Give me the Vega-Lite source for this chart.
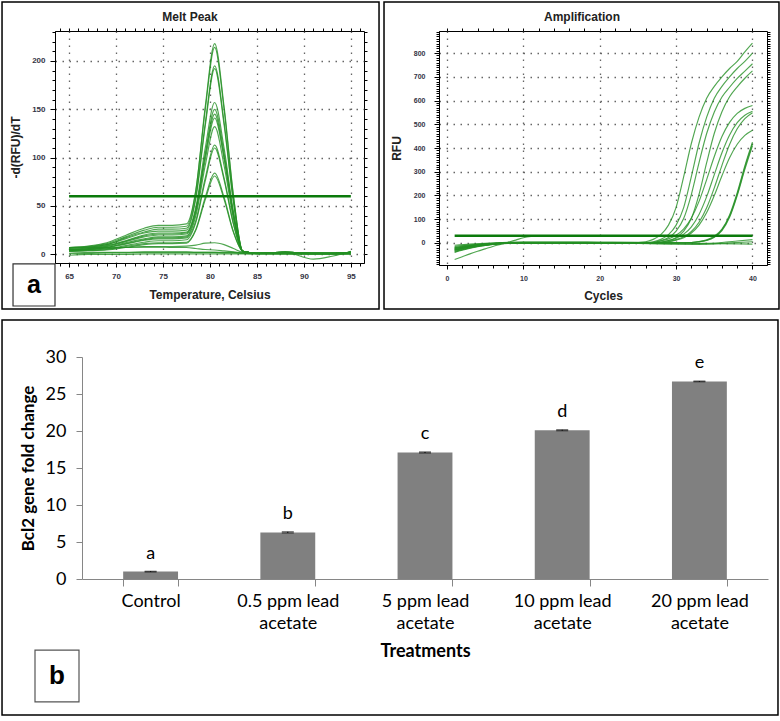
{
"$schema": "https://vega.github.io/schema/vega-lite/v6.json",
"padding": 0,
"background": "white",
"spacing": 8,
"config": {"font": "Liberation Sans", "view": {"stroke": "black", "strokeWidth": 1}},
"datasets": {
"melt": [
{"c":"m1","t":65,"v":7},{"c":"m1","t":67,"v":8},{"c":"m1","t":69,"v":11},{"c":"m1","t":71,"v":18},{"c":"m1","t":73,"v":25},{"c":"m1","t":74.5,"v":28},{"c":"m1","t":76,"v":28},{"c":"m1","t":77.5,"v":29},{"c":"m1","t":78.5,"v":66},{"c":"m1","t":79.5,"v":153},{"c":"m1","t":80.5,"v":218},{"c":"m1","t":81.5,"v":153},{"c":"m1","t":82.5,"v":61},{"c":"m1","t":83.5,"v":3},{"c":"m1","t":85,"v":1},{"c":"m1","t":88,"v":2},{"c":"m1","t":91,"v":1},{"c":"m1","t":93,"v":1},{"c":"m1","t":95,"v":2},
{"c":"m2","t":65,"v":7},{"c":"m2","t":67,"v":8.5},{"c":"m2","t":69,"v":12},{"c":"m2","t":71,"v":19.5},{"c":"m2","t":73,"v":27},{"c":"m2","t":74.5,"v":30},{"c":"m2","t":76,"v":30},{"c":"m2","t":77.5,"v":31.5},{"c":"m2","t":78.5,"v":67},{"c":"m2","t":79.5,"v":150},{"c":"m2","t":80.5,"v":214},{"c":"m2","t":81.5,"v":150},{"c":"m2","t":82.5,"v":60},{"c":"m2","t":83.5,"v":3},{"c":"m2","t":85,"v":1},{"c":"m2","t":88,"v":2},{"c":"m2","t":91,"v":1},{"c":"m2","t":93,"v":1},{"c":"m2","t":95,"v":2},
{"c":"m3","t":65,"v":6},{"c":"m3","t":67,"v":7.5},{"c":"m3","t":69,"v":10},{"c":"m3","t":71,"v":17},{"c":"m3","t":73,"v":23},{"c":"m3","t":74.5,"v":26},{"c":"m3","t":76,"v":26},{"c":"m3","t":77.5,"v":27},{"c":"m3","t":78.5,"v":60},{"c":"m3","t":79.5,"v":136},{"c":"m3","t":80.5,"v":195},{"c":"m3","t":81.5,"v":137},{"c":"m3","t":82.5,"v":55},{"c":"m3","t":83.5,"v":3},{"c":"m3","t":85,"v":1},{"c":"m3","t":88,"v":2},{"c":"m3","t":91,"v":1},{"c":"m3","t":93,"v":1},{"c":"m3","t":95,"v":2},
{"c":"m4","t":65,"v":6},{"c":"m4","t":67,"v":7},{"c":"m4","t":69,"v":10},{"c":"m4","t":71,"v":16},{"c":"m4","t":73,"v":22},{"c":"m4","t":74.5,"v":24},{"c":"m4","t":76,"v":24},{"c":"m4","t":77.5,"v":25},{"c":"m4","t":78.5,"v":58},{"c":"m4","t":79.5,"v":133},{"c":"m4","t":80.5,"v":192},{"c":"m4","t":81.5,"v":134},{"c":"m4","t":82.5,"v":54},{"c":"m4","t":83.5,"v":3},{"c":"m4","t":85,"v":1},{"c":"m4","t":88,"v":2},{"c":"m4","t":91,"v":1},{"c":"m4","t":93,"v":1},{"c":"m4","t":95,"v":2},
{"c":"m5","t":65,"v":5},{"c":"m5","t":67,"v":6.5},{"c":"m5","t":69,"v":9},{"c":"m5","t":71,"v":14},{"c":"m5","t":73,"v":20},{"c":"m5","t":74.5,"v":22},{"c":"m5","t":76,"v":22},{"c":"m5","t":77.5,"v":23},{"c":"m5","t":78.5,"v":49},{"c":"m5","t":79.5,"v":110},{"c":"m5","t":80.5,"v":157},{"c":"m5","t":81.5,"v":110},{"c":"m5","t":82.5,"v":44},{"c":"m5","t":83.5,"v":3},{"c":"m5","t":85,"v":1},{"c":"m5","t":88,"v":2},{"c":"m5","t":91,"v":1},{"c":"m5","t":93,"v":1},{"c":"m5","t":95,"v":2},
{"c":"m6","t":65,"v":5},{"c":"m6","t":67,"v":6},{"c":"m6","t":69,"v":8},{"c":"m6","t":71,"v":13},{"c":"m6","t":73,"v":18},{"c":"m6","t":74.5,"v":20},{"c":"m6","t":76,"v":20},{"c":"m6","t":77.5,"v":21},{"c":"m6","t":78.5,"v":46},{"c":"m6","t":79.5,"v":104},{"c":"m6","t":80.5,"v":150},{"c":"m6","t":81.5,"v":105},{"c":"m6","t":82.5,"v":42},{"c":"m6","t":83.5,"v":3},{"c":"m6","t":85,"v":1},{"c":"m6","t":88,"v":2},{"c":"m6","t":91,"v":1},{"c":"m6","t":93,"v":1},{"c":"m6","t":95,"v":2},
{"c":"m7","t":65,"v":5},{"c":"m7","t":67,"v":6},{"c":"m7","t":69,"v":8.5},{"c":"m7","t":71,"v":13.5},{"c":"m7","t":73,"v":19},{"c":"m7","t":74.5,"v":21},{"c":"m7","t":76,"v":21},{"c":"m7","t":77.5,"v":22},{"c":"m7","t":78.5,"v":46},{"c":"m7","t":79.5,"v":102},{"c":"m7","t":80.5,"v":145},{"c":"m7","t":81.5,"v":101},{"c":"m7","t":82.5,"v":41},{"c":"m7","t":83.5,"v":3},{"c":"m7","t":85,"v":1},{"c":"m7","t":88,"v":2},{"c":"m7","t":91,"v":1},{"c":"m7","t":93,"v":1},{"c":"m7","t":95,"v":2},
{"c":"m8","t":65,"v":4.6},{"c":"m8","t":67,"v":5.5},{"c":"m8","t":69,"v":7},{"c":"m8","t":71,"v":12},{"c":"m8","t":73,"v":16},{"c":"m8","t":74.5,"v":18},{"c":"m8","t":76,"v":18},{"c":"m8","t":77.5,"v":19},{"c":"m8","t":78.5,"v":43},{"c":"m8","t":79.5,"v":98},{"c":"m8","t":80.5,"v":141},{"c":"m8","t":81.5,"v":99},{"c":"m8","t":82.5,"v":39},{"c":"m8","t":83.5,"v":3},{"c":"m8","t":85,"v":1},{"c":"m8","t":88,"v":2},{"c":"m8","t":91,"v":1},{"c":"m8","t":93,"v":1},{"c":"m8","t":95,"v":2},
{"c":"m9","t":65,"v":4.4},{"c":"m9","t":67,"v":5},{"c":"m9","t":69,"v":7},{"c":"m9","t":71,"v":11},{"c":"m9","t":73,"v":15},{"c":"m9","t":74.5,"v":17},{"c":"m9","t":76,"v":17},{"c":"m9","t":77.5,"v":18},{"c":"m9","t":78.5,"v":40},{"c":"m9","t":79.5,"v":92},{"c":"m9","t":80.5,"v":132},{"c":"m9","t":81.5,"v":92},{"c":"m9","t":82.5,"v":37},{"c":"m9","t":83.5,"v":3},{"c":"m9","t":85,"v":1},{"c":"m9","t":88,"v":2},{"c":"m9","t":91,"v":1},{"c":"m9","t":93,"v":1},{"c":"m9","t":95,"v":2},
{"c":"m10","t":65,"v":4},{"c":"m10","t":67,"v":5},{"c":"m10","t":69,"v":6.5},{"c":"m10","t":71,"v":10.5},{"c":"m10","t":73,"v":14.5},{"c":"m10","t":74.5,"v":16},{"c":"m10","t":76,"v":16},{"c":"m10","t":77.5,"v":17},{"c":"m10","t":78.5,"v":35},{"c":"m10","t":79.5,"v":79},{"c":"m10","t":80.5,"v":113},{"c":"m10","t":81.5,"v":79},{"c":"m10","t":82.5,"v":32},{"c":"m10","t":83.5,"v":3},{"c":"m10","t":85,"v":1},{"c":"m10","t":88,"v":2},{"c":"m10","t":91,"v":1},{"c":"m10","t":93,"v":1},{"c":"m10","t":95,"v":2},
{"c":"m11","t":65,"v":4},{"c":"m11","t":67,"v":4.5},{"c":"m11","t":69,"v":5.5},{"c":"m11","t":71,"v":9},{"c":"m11","t":73,"v":12.5},{"c":"m11","t":74.5,"v":14},{"c":"m11","t":76,"v":14},{"c":"m11","t":77.5,"v":15},{"c":"m11","t":78.5,"v":33},{"c":"m11","t":79.5,"v":76},{"c":"m11","t":80.5,"v":110},{"c":"m11","t":81.5,"v":77},{"c":"m11","t":82.5,"v":31},{"c":"m11","t":83.5,"v":3},{"c":"m11","t":85,"v":1},{"c":"m11","t":88,"v":2},{"c":"m11","t":91,"v":1},{"c":"m11","t":93,"v":1},{"c":"m11","t":95,"v":2},
{"c":"m12","t":65,"v":3.4},{"c":"m12","t":67,"v":4},{"c":"m12","t":69,"v":5},{"c":"m12","t":71,"v":8},{"c":"m12","t":73,"v":11},{"c":"m12","t":74.5,"v":12},{"c":"m12","t":76,"v":12},{"c":"m12","t":77.5,"v":12.5},{"c":"m12","t":78.5,"v":26},{"c":"m12","t":79.5,"v":59},{"c":"m12","t":80.5,"v":84},{"c":"m12","t":81.5,"v":59},{"c":"m12","t":82.5,"v":23.5},{"c":"m12","t":83.5,"v":3},{"c":"m12","t":85,"v":1},{"c":"m12","t":88,"v":2},{"c":"m12","t":91,"v":1},{"c":"m12","t":93,"v":1},{"c":"m12","t":95,"v":2},
{"c":"m13","t":65,"v":3.2},{"c":"m13","t":67,"v":3.7},{"c":"m13","t":69,"v":4.4},{"c":"m13","t":71,"v":7},{"c":"m13","t":73,"v":10},{"c":"m13","t":74.5,"v":11},{"c":"m13","t":76,"v":11},{"c":"m13","t":77.5,"v":11.5},{"c":"m13","t":78.5,"v":25},{"c":"m13","t":79.5,"v":56.5},{"c":"m13","t":80.5,"v":81},{"c":"m13","t":81.5,"v":57},{"c":"m13","t":82.5,"v":22.7},{"c":"m13","t":83.5,"v":3},{"c":"m13","t":85,"v":1},{"c":"m13","t":88,"v":2},{"c":"m13","t":91,"v":1},{"c":"m13","t":93,"v":1},{"c":"m13","t":95,"v":2},
{"c":"m14","t":65,"v":4},{"c":"m14","t":67,"v":5},{"c":"m14","t":69,"v":6},{"c":"m14","t":71,"v":7},{"c":"m14","t":73,"v":8},{"c":"m14","t":74.5,"v":8},{"c":"m14","t":76,"v":8},{"c":"m14","t":77.5,"v":8.5},{"c":"m14","t":78.5,"v":9.5},{"c":"m14","t":79.5,"v":11.5},{"c":"m14","t":80.5,"v":12},{"c":"m14","t":81.5,"v":10},{"c":"m14","t":82.5,"v":6},{"c":"m14","t":83.5,"v":2},{"c":"m14","t":85,"v":1},{"c":"m14","t":88,"v":1},{"c":"m14","t":91,"v":1},{"c":"m14","t":93,"v":1},{"c":"m14","t":95,"v":2},
{"c":"m15","t":65,"v":7},{"c":"m15","t":67,"v":7},{"c":"m15","t":69,"v":7},{"c":"m15","t":71,"v":7},{"c":"m15","t":73,"v":7.5},{"c":"m15","t":74.5,"v":7.5},{"c":"m15","t":76,"v":7},{"c":"m15","t":77.5,"v":7},{"c":"m15","t":78.5,"v":6},{"c":"m15","t":79.5,"v":5},{"c":"m15","t":80.5,"v":4.5},{"c":"m15","t":81.5,"v":3.5},{"c":"m15","t":82.5,"v":2.5},{"c":"m15","t":83.5,"v":1.5},{"c":"m15","t":85,"v":1},{"c":"m15","t":88,"v":1.5},{"c":"m15","t":91,"v":1},{"c":"m15","t":93,"v":1},{"c":"m15","t":95,"v":1},
{"c":"m16","t":65,"v":1},{"c":"m16","t":67,"v":1},{"c":"m16","t":69,"v":1.5},{"c":"m16","t":71,"v":1.5},{"c":"m16","t":73,"v":2},{"c":"m16","t":74.5,"v":2},{"c":"m16","t":76,"v":2},{"c":"m16","t":77.5,"v":2},{"c":"m16","t":78.5,"v":2},{"c":"m16","t":79.5,"v":2},{"c":"m16","t":80.5,"v":2},{"c":"m16","t":81.5,"v":1.5},{"c":"m16","t":82.5,"v":1.5},{"c":"m16","t":83.5,"v":1},{"c":"m16","t":85,"v":1},{"c":"m16","t":88,"v":1},{"c":"m16","t":91,"v":0},{"c":"m16","t":93,"v":0},{"c":"m16","t":95,"v":1},
{"c":"m17","t":65,"v":3},{"c":"m17","t":67,"v":2},{"c":"m17","t":69,"v":2},{"c":"m17","t":71,"v":2},{"c":"m17","t":73,"v":2.5},{"c":"m17","t":74.5,"v":2.5},{"c":"m17","t":76,"v":2.5},{"c":"m17","t":77.5,"v":2.5},{"c":"m17","t":78.5,"v":2},{"c":"m17","t":79.5,"v":2},{"c":"m17","t":80.5,"v":2},{"c":"m17","t":81.5,"v":2},{"c":"m17","t":82.5,"v":2},{"c":"m17","t":83.5,"v":1.5},{"c":"m17","t":85,"v":1},{"c":"m17","t":88,"v":2},{"c":"m17","t":91,"v":-5},{"c":"m17","t":93,"v":-2},{"c":"m17","t":95,"v":3},
{"c":"m18","t":65,"v":-1},{"c":"m18","t":67,"v":0},{"c":"m18","t":69,"v":0},{"c":"m18","t":71,"v":0},{"c":"m18","t":73,"v":0.5},{"c":"m18","t":74.5,"v":0.5},{"c":"m18","t":76,"v":0.5},{"c":"m18","t":77.5,"v":0.5},{"c":"m18","t":78.5,"v":0.5},{"c":"m18","t":79.5,"v":0.5},{"c":"m18","t":80.5,"v":0.5},{"c":"m18","t":81.5,"v":0.5},{"c":"m18","t":82.5,"v":0.5},{"c":"m18","t":83.5,"v":0.5},{"c":"m18","t":85,"v":0},{"c":"m18","t":88,"v":0},{"c":"m18","t":91,"v":0},{"c":"m18","t":93,"v":0},{"c":"m18","t":95,"v":0}
],
"meltThr": [{"t":65,"v":60},{"t":95,"v":60}],
"amp": [
{"c":"A1","x":1,"v":-25},{"c":"A1","x":2,"v":-19},{"c":"A1","x":4,"v":-10},{"c":"A1","x":6,"v":-4},{"c":"A1","x":8,"v":-1},{"c":"A1","x":12,"v":0},{"c":"A1","x":16,"v":1},{"c":"A1","x":20,"v":0},{"c":"A1","x":24,"v":1},{"c":"A1","x":26,"v":5},{"c":"A1","x":27,"v":15},{"c":"A1","x":28,"v":35},{"c":"A1","x":29,"v":75},{"c":"A1","x":30,"v":150},{"c":"A1","x":31,"v":280},{"c":"A1","x":32,"v":420},{"c":"A1","x":33,"v":530},{"c":"A1","x":34,"v":610},{"c":"A1","x":35,"v":660},{"c":"A1","x":36,"v":700},{"c":"A1","x":37,"v":735},{"c":"A1","x":38,"v":765},{"c":"A1","x":39,"v":805},{"c":"A1","x":40,"v":842},
{"c":"A2","x":1,"v":-35},{"c":"A2","x":2,"v":-27},{"c":"A2","x":4,"v":-14},{"c":"A2","x":6,"v":-5},{"c":"A2","x":8,"v":-1},{"c":"A2","x":12,"v":0},{"c":"A2","x":16,"v":1},{"c":"A2","x":20,"v":0},{"c":"A2","x":24,"v":0},{"c":"A2","x":26,"v":1},{"c":"A2","x":27,"v":5},{"c":"A2","x":28,"v":15},{"c":"A2","x":29,"v":35},{"c":"A2","x":30,"v":75},{"c":"A2","x":31,"v":150},{"c":"A2","x":32,"v":280},{"c":"A2","x":33,"v":420},{"c":"A2","x":34,"v":530},{"c":"A2","x":35,"v":610},{"c":"A2","x":36,"v":660},{"c":"A2","x":37,"v":700},{"c":"A2","x":38,"v":735},{"c":"A2","x":39,"v":765},{"c":"A2","x":40,"v":800},
{"c":"A3","x":1,"v":-20},{"c":"A3","x":2,"v":-15},{"c":"A3","x":4,"v":-8},{"c":"A3","x":6,"v":-3},{"c":"A3","x":8,"v":0},{"c":"A3","x":12,"v":1},{"c":"A3","x":16,"v":0},{"c":"A3","x":20,"v":1},{"c":"A3","x":24,"v":0},{"c":"A3","x":27,"v":3},{"c":"A3","x":28,"v":10},{"c":"A3","x":29,"v":23},{"c":"A3","x":30,"v":50},{"c":"A3","x":31,"v":104},{"c":"A3","x":32,"v":205},{"c":"A3","x":33,"v":338},{"c":"A3","x":34,"v":461},{"c":"A3","x":35,"v":552},{"c":"A3","x":36,"v":615},{"c":"A3","x":37,"v":656},{"c":"A3","x":38,"v":693},{"c":"A3","x":39,"v":724},{"c":"A3","x":40,"v":755},
{"c":"A4","x":1,"v":-30},{"c":"A4","x":2,"v":-23},{"c":"A4","x":4,"v":-12},{"c":"A4","x":6,"v":-5},{"c":"A4","x":8,"v":-1},{"c":"A4","x":12,"v":0},{"c":"A4","x":16,"v":0},{"c":"A4","x":20,"v":1},{"c":"A4","x":24,"v":0},{"c":"A4","x":27,"v":0},{"c":"A4","x":28,"v":3},{"c":"A4","x":29,"v":10},{"c":"A4","x":30,"v":23},{"c":"A4","x":31,"v":50},{"c":"A4","x":32,"v":104},{"c":"A4","x":33,"v":205},{"c":"A4","x":34,"v":338},{"c":"A4","x":35,"v":462},{"c":"A4","x":36,"v":553},{"c":"A4","x":37,"v":616},{"c":"A4","x":38,"v":658},{"c":"A4","x":39,"v":694},{"c":"A4","x":40,"v":725},
{"c":"L1","x":1,"v":-38},{"c":"L1","x":2,"v":-29},{"c":"L1","x":4,"v":-15},{"c":"L1","x":6,"v":-6},{"c":"L1","x":8,"v":-1},{"c":"L1","x":12,"v":0},{"c":"L1","x":16,"v":0},{"c":"L1","x":20,"v":0},{"c":"L1","x":24,"v":0},{"c":"L1","x":27,"v":2},{"c":"L1","x":28,"v":8},{"c":"L1","x":29,"v":17},{"c":"L1","x":30,"v":32},{"c":"L1","x":31,"v":59},{"c":"L1","x":32,"v":105},{"c":"L1","x":33,"v":175},{"c":"L1","x":34,"v":267},{"c":"L1","x":35,"v":364},{"c":"L1","x":36,"v":448},{"c":"L1","x":37,"v":508},{"c":"L1","x":38,"v":546},{"c":"L1","x":39,"v":567},{"c":"L1","x":40,"v":579},
{"c":"L2","x":1,"v":-15},{"c":"L2","x":2,"v":-11},{"c":"L2","x":4,"v":-6},{"c":"L2","x":6,"v":-2},{"c":"L2","x":8,"v":0},{"c":"L2","x":12,"v":1},{"c":"L2","x":16,"v":0},{"c":"L2","x":20,"v":0},{"c":"L2","x":24,"v":0},{"c":"L2","x":27,"v":1},{"c":"L2","x":28,"v":4},{"c":"L2","x":29,"v":10},{"c":"L2","x":30,"v":20},{"c":"L2","x":31,"v":37},{"c":"L2","x":32,"v":68},{"c":"L2","x":33,"v":120},{"c":"L2","x":34,"v":195},{"c":"L2","x":35,"v":288},{"c":"L2","x":36,"v":380},{"c":"L2","x":37,"v":455},{"c":"L2","x":38,"v":507},{"c":"L2","x":39,"v":538},{"c":"L2","x":40,"v":555},
{"c":"L3","x":1,"v":-28},{"c":"L3","x":2,"v":-21},{"c":"L3","x":4,"v":-11},{"c":"L3","x":6,"v":-4},{"c":"L3","x":8,"v":-1},{"c":"L3","x":12,"v":0},{"c":"L3","x":16,"v":1},{"c":"L3","x":20,"v":0},{"c":"L3","x":24,"v":0},{"c":"L3","x":28,"v":2},{"c":"L3","x":29,"v":6},{"c":"L3","x":30,"v":14},{"c":"L3","x":31,"v":26},{"c":"L3","x":32,"v":48},{"c":"L3","x":33,"v":87},{"c":"L3","x":34,"v":148},{"c":"L3","x":35,"v":232},{"c":"L3","x":36,"v":327},{"c":"L3","x":37,"v":415},{"c":"L3","x":38,"v":481},{"c":"L3","x":39,"v":524},{"c":"L3","x":40,"v":549},
{"c":"L4","x":1,"v":-22},{"c":"L4","x":2,"v":-17},{"c":"L4","x":4,"v":-9},{"c":"L4","x":6,"v":-3},{"c":"L4","x":8,"v":0},{"c":"L4","x":12,"v":0},{"c":"L4","x":16,"v":0},{"c":"L4","x":20,"v":1},{"c":"L4","x":24,"v":0},{"c":"L4","x":28,"v":2},{"c":"L4","x":29,"v":5},{"c":"L4","x":30,"v":12},{"c":"L4","x":31,"v":22},{"c":"L4","x":32,"v":42},{"c":"L4","x":33,"v":75},{"c":"L4","x":34,"v":128},{"c":"L4","x":35,"v":200},{"c":"L4","x":36,"v":283},{"c":"L4","x":37,"v":359},{"c":"L4","x":38,"v":416},{"c":"L4","x":39,"v":453},{"c":"L4","x":40,"v":475},
{"c":"L5","x":1,"v":-32},{"c":"L5","x":2,"v":-24},{"c":"L5","x":4,"v":-12},{"c":"L5","x":6,"v":-5},{"c":"L5","x":8,"v":-1},{"c":"L5","x":12,"v":0},{"c":"L5","x":16,"v":0},{"c":"L5","x":20,"v":0},{"c":"L5","x":24,"v":0},{"c":"L5","x":30,"v":0},{"c":"L5","x":32,"v":2},{"c":"L5","x":33,"v":6},{"c":"L5","x":34,"v":13},{"c":"L5","x":35,"v":28},{"c":"L5","x":36,"v":58},{"c":"L5","x":37,"v":118},{"c":"L5","x":38,"v":212},{"c":"L5","x":39,"v":325},{"c":"L5","x":40,"v":425},
{"c":"L6","x":1,"v":-40},{"c":"L6","x":2,"v":-31},{"c":"L6","x":4,"v":-16},{"c":"L6","x":6,"v":-6},{"c":"L6","x":8,"v":-2},{"c":"L6","x":12,"v":0},{"c":"L6","x":16,"v":0},{"c":"L6","x":20,"v":0},{"c":"L6","x":24,"v":0},{"c":"L6","x":30,"v":0},{"c":"L6","x":32,"v":2},{"c":"L6","x":33,"v":5},{"c":"L6","x":34,"v":11},{"c":"L6","x":35,"v":25},{"c":"L6","x":36,"v":52},{"c":"L6","x":37,"v":108},{"c":"L6","x":38,"v":200},{"c":"L6","x":39,"v":310},{"c":"L6","x":40,"v":410},
{"c":"L7","x":1,"v":-18},{"c":"L7","x":2,"v":-14},{"c":"L7","x":4,"v":-7},{"c":"L7","x":6,"v":-3},{"c":"L7","x":8,"v":0},{"c":"L7","x":12,"v":0},{"c":"L7","x":16,"v":0},{"c":"L7","x":20,"v":0},{"c":"L7","x":24,"v":0},{"c":"L7","x":30,"v":0},{"c":"L7","x":32,"v":2},{"c":"L7","x":33,"v":5},{"c":"L7","x":34,"v":10},{"c":"L7","x":35,"v":24},{"c":"L7","x":36,"v":55},{"c":"L7","x":37,"v":112},{"c":"L7","x":38,"v":205},{"c":"L7","x":39,"v":318},{"c":"L7","x":40,"v":418},
{"c":"N1","x":1,"v":-70},{"c":"N1","x":2,"v":-58},{"c":"N1","x":3,"v":-46},{"c":"N1","x":4,"v":-35},{"c":"N1","x":5,"v":-25},{"c":"N1","x":6,"v":-15},{"c":"N1","x":7,"v":-6},{"c":"N1","x":8,"v":3},{"c":"N1","x":9,"v":12},{"c":"N1","x":10,"v":22},{"c":"N1","x":11,"v":27},{"c":"N1","x":13,"v":30},{"c":"N1","x":20,"v":31},{"c":"N1","x":30,"v":31},{"c":"N1","x":40,"v":30},
{"c":"N2","x":1,"v":-10},{"c":"N2","x":3,"v":-5},{"c":"N2","x":5,"v":-2},{"c":"N2","x":8,"v":3},{"c":"N2","x":10,"v":5},{"c":"N2","x":15,"v":5},{"c":"N2","x":20,"v":4},{"c":"N2","x":25,"v":3},{"c":"N2","x":30,"v":0},{"c":"N2","x":33,"v":-2},{"c":"N2","x":36,"v":2},{"c":"N2","x":38,"v":8},{"c":"N2","x":40,"v":14},
{"c":"N3","x":1,"v":-30},{"c":"N3","x":2,"v":-23},{"c":"N3","x":4,"v":-12},{"c":"N3","x":6,"v":-5},{"c":"N3","x":8,"v":-1},{"c":"N3","x":10,"v":0},{"c":"N3","x":20,"v":0},{"c":"N3","x":30,"v":-4},{"c":"N3","x":35,"v":-3},{"c":"N3","x":40,"v":-5},
{"c":"N4","x":1,"v":-24},{"c":"N4","x":3,"v":-14},{"c":"N4","x":5,"v":-6},{"c":"N4","x":8,"v":0},{"c":"N4","x":12,"v":2},{"c":"N4","x":20,"v":1},{"c":"N4","x":28,"v":-3},{"c":"N4","x":33,"v":-6},{"c":"N4","x":37,"v":0},{"c":"N4","x":40,"v":5}
],
"ampThr": [{"x":1,"v":30},{"x":40,"v":30}],
"bars": [
{"t":"Control","v":1.0,"lo":0.95,"hi":1.05,"g":"a"},
{"t":"0.5 ppm lead acetate","v":6.3,"lo":6.22,"hi":6.38,"g":"b"},
{"t":"5 ppm lead acetate","v":17.1,"lo":17.03,"hi":17.17,"g":"c"},
{"t":"10 ppm lead acetate","v":20.1,"lo":20.03,"hi":20.17,"g":"d"},
{"t":"20 ppm lead acetate","v":26.7,"lo":26.65,"hi":26.75,"g":"e"}
]
},
"vconcat": [
{"hconcat": [
{
"width": 309, "height": 232,
"layer": [
{"data": {"values": [{}]},
 "mark": {"type": "rect", "filled": false, "stroke": "black", "strokeWidth": 1.5},
 "encoding": {
  "x": {"datum": 57.86, "type": "quantitative", "scale": {"domain": [63.5, 96.4], "nice": false, "zero": false},
        "axis": {"orient": "top", "tickCount": 33, "labels": false, "domain": false, "grid": false, "tickSize": 3, "tickColor": "black", "title": null}},
  "x2": {"datum": 98.0},
  "y": {"datum": 261.0, "type": "quantitative", "scale": {"domain": [-9, 231], "nice": false, "zero": false},
        "axis": {"orient": "right", "tickCount": 24, "labels": false, "domain": false, "grid": false, "tickSize": 3, "tickColor": "black", "title": null}},
  "y2": {"datum": -56.6}
 }},
{"data": {"name": "melt"},
 "mark": {"type": "line", "interpolate": "monotone", "stroke": "#249024", "strokeWidth": 1.15, "opacity": 0.8},
 "encoding": {
  "x": {"field": "t", "type": "quantitative", "scale": {"domain": [63.5, 96.4], "nice": false, "zero": false},
        "axis": {"values": [65, 70, 75, 80, 85, 90, 95], "title": "Temperature, Celsius", "titleFontSize": 12, "titleFontWeight": "bold", "titleColor": "#222222", "titlePadding": 9,
                 "labelFontSize": 8, "labelFontWeight": "bold", "labelColor": "#333344", "labelPadding": 5, "tickSize": 4, "tickColor": "black", "domainColor": "black",
                 "grid": true, "gridDash": [1.5, 5.5], "gridColor": "#666666", "gridWidth": 1.3}},
  "y": {"field": "v", "type": "quantitative", "scale": {"domain": [-9, 231], "nice": false, "zero": false},
        "axis": {"values": [0, 50, 100, 150, 200], "title": "-d(RFU)/dT", "titleFontSize": 12, "titleFontWeight": "bold", "titleColor": "#222222", "titlePadding": 9,
                 "labelFontSize": 8, "labelFontWeight": "bold", "labelColor": "#333344", "labelPadding": 5, "tickSize": 5, "tickColor": "black", "domainColor": "black",
                 "grid": true, "gridDash": [1.5, 5.5], "gridColor": "#666666", "gridWidth": 1.3}},
  "detail": {"field": "c", "type": "nominal"}
 }},
{"data": {"name": "meltThr"},
 "mark": {"type": "line", "stroke": "#0b7a0b", "strokeWidth": 2.5},
 "encoding": {
  "x": {"field": "t", "type": "quantitative", "scale": {"domain": [63.5, 96.4], "nice": false, "zero": false},
        "axis": {"tickCount": 33, "labels": false, "domain": false, "grid": false, "tickSize": 3, "tickColor": "black", "title": null}},
  "y": {"field": "v", "type": "quantitative", "scale": {"domain": [-9, 231], "nice": false, "zero": false},
        "axis": {"tickCount": 24, "labels": false, "domain": false, "grid": false, "tickSize": 3, "tickColor": "black", "title": null}}
 }},
{"data": {"values": [{}]},
 "mark": {"type": "rect", "fill": "white", "stroke": "#333333", "strokeWidth": 1.2},
 "encoding": {
  "x": {"datum": 59.03, "type": "quantitative", "scale": {"domain": [63.5, 96.4], "nice": false, "zero": false}, "axis": null},
  "x2": {"datum": 63.5},
  "y": {"datum": -10.0, "type": "quantitative", "scale": {"domain": [-9, 231], "nice": false, "zero": false}, "axis": null},
  "y2": {"datum": -53.5}
 }},
{"data": {"values": [{}]},
 "mark": {"type": "text", "text": "a", "font": "Liberation Sans", "fontSize": 25, "fontWeight": "bold", "align": "center", "baseline": "middle", "color": "black"},
 "encoding": {
  "x": {"datum": 61.27, "type": "quantitative", "scale": {"domain": [63.5, 96.4], "nice": false, "zero": false}, "axis": null},
  "y": {"datum": -31.8, "type": "quantitative", "scale": {"domain": [-9, 231], "nice": false, "zero": false}, "axis": null}
 }},
{"data": {"values": [{}]},
 "mark": {"type": "text", "text": "Melt Peak", "font": "Liberation Sans", "fontSize": 12, "fontWeight": "bold", "align": "center", "baseline": "middle", "color": "#222222"},
 "encoding": {
  "x": {"datum": 77.87, "type": "quantitative", "scale": {"domain": [63.5, 96.4], "nice": false, "zero": false}, "axis": null},
  "y": {"datum": 245.5, "type": "quantitative", "scale": {"domain": [-9, 231], "nice": false, "zero": false}, "axis": null}
 }}
],
"resolve": {"axis": {"x": "independent", "y": "independent"}}
},
{
"width": 328, "height": 234,
"layer": [
{"data": {"values": [{}]},
 "mark": {"type": "rect", "filled": false, "stroke": "black", "strokeWidth": 1.5},
 "encoding": {
  "x": {"datum": -8.25, "type": "quantitative", "scale": {"domain": [-1.05, 41.9], "nice": false, "zero": false},
        "axis": {"orient": "top", "tickCount": 21, "labels": false, "domain": false, "grid": false, "tickSize": 3, "tickColor": "black", "title": null}},
  "x2": {"datum": 43.47},
  "y": {"datum": 1015.2, "type": "quantitative", "scale": {"domain": [-93, 893], "nice": false, "zero": false},
        "axis": {"orient": "right", "tickCount": 100, "labels": false, "domain": false, "grid": false, "tickSize": 3, "tickColor": "black", "title": null}},
  "y2": {"datum": -278.5}
 }},
{"data": {"name": "amp"},
 "mark": {"type": "line", "interpolate": "monotone", "stroke": "#249024", "strokeWidth": 1.15, "opacity": 0.8},
 "encoding": {
  "x": {"field": "x", "type": "quantitative", "scale": {"domain": [-1.05, 41.9], "nice": false, "zero": false},
        "axis": {"values": [0, 10, 20, 30, 40], "title": "Cycles", "titleFontSize": 12, "titleFontWeight": "bold", "titleColor": "#222222", "titlePadding": 9,
                 "labelFontSize": 7, "labelFontWeight": "bold", "labelColor": "#333344", "labelPadding": 5, "tickSize": 4, "tickColor": "black", "domainColor": "black",
                 "grid": true, "gridDash": [1.5, 5.5], "gridColor": "#666666", "gridWidth": 1.3}},
  "y": {"field": "v", "type": "quantitative", "scale": {"domain": [-93, 893], "nice": false, "zero": false},
        "axis": {"values": [0, 100, 200, 300, 400, 500, 600, 700, 800], "title": "RFU", "titleFontSize": 12, "titleFontWeight": "bold", "titleColor": "#222222", "titlePadding": 10,
                 "labelFontSize": 7, "labelFontWeight": "bold", "labelColor": "#333344", "labelPadding": 9, "tickSize": 5, "tickColor": "black", "domainColor": "black",
                 "grid": true, "gridDash": [1.5, 5.5], "gridColor": "#666666", "gridWidth": 1.3}},
  "detail": {"field": "c", "type": "nominal"}
 }},
{"data": {"name": "ampThr"},
 "mark": {"type": "line", "stroke": "#0b7a0b", "strokeWidth": 2.5},
 "encoding": {
  "x": {"field": "x", "type": "quantitative", "scale": {"domain": [-1.05, 41.9], "nice": false, "zero": false},
        "axis": {"tickCount": 21, "labels": false, "domain": false, "grid": false, "tickSize": 3, "tickColor": "black", "title": null}},
  "y": {"field": "v", "type": "quantitative", "scale": {"domain": [-93, 893], "nice": false, "zero": false},
        "axis": {"tickCount": 100, "labels": false, "domain": false, "grid": false, "tickSize": 3, "tickColor": "black", "title": null}}
 }},
{"data": {"values": [{}]},
 "mark": {"type": "text", "text": "Amplification", "font": "Liberation Sans", "fontSize": 12, "fontWeight": "bold", "align": "center", "baseline": "middle", "color": "#222222"},
 "encoding": {
  "x": {"datum": 17.67, "type": "quantitative", "scale": {"domain": [-1.05, 41.9], "nice": false, "zero": false}, "axis": null},
  "y": {"datum": 952, "type": "quantitative", "scale": {"domain": [-93, 893], "nice": false, "zero": false}, "axis": null}
 }}
],
"resolve": {"axis": {"x": "independent", "y": "independent"}}
}
], "spacing": 1},
{
"width": 713, "height": 222,
"view": {"stroke": null},
"layer": [
{"data": {"values": [{}]},
 "mark": {"type": "rect", "filled": false, "stroke": "black", "strokeWidth": 1.5},
 "encoding": {
  "x": {"datum": -0.0743, "type": "quantitative", "scale": {"domain": [0, 1], "nice": false, "zero": false}, "axis": null},
  "x2": {"datum": 1.014},
  "y": {"datum": 35.0, "type": "quantitative", "scale": {"domain": [0, 30], "nice": false, "zero": false}, "axis": null},
  "y2": {"datum": -18.38}
 }},
{"data": {"values": [{}]},
 "mark": {"type": "rect", "fill": "white", "stroke": "#555555", "strokeWidth": 1.2},
 "encoding": {
  "x": {"datum": -0.02805, "type": "quantitative", "scale": {"domain": [0, 1], "nice": false, "zero": false}, "axis": null},
  "x2": {"datum": 0.03366},
  "y": {"datum": -9.6, "type": "quantitative", "scale": {"domain": [0, 30], "nice": false, "zero": false}, "axis": null},
  "y2": {"datum": -16.6}
 }},
{"data": {"values": [{}]},
 "mark": {"type": "text", "text": "b", "font": "Liberation Sans", "fontSize": 26, "fontWeight": "bold", "align": "center", "baseline": "middle", "color": "black"},
 "encoding": {
  "x": {"datum": 0.0028, "type": "quantitative", "scale": {"domain": [0, 1], "nice": false, "zero": false}, "axis": null},
  "y": {"datum": -13.1, "type": "quantitative", "scale": {"domain": [0, 30], "nice": false, "zero": false}, "axis": null}
 }},
{"data": {"name": "bars"},
 "mark": {"type": "bar", "color": "#808080"},
 "encoding": {
  "x": {"field": "t", "type": "nominal", "sort": null, "scale": {"paddingInner": 0.6, "paddingOuter": 0.3, "rangeMin": 27},
        "axis": {"title": "Treatments", "titleFont": "Lato", "titleFontSize": 18, "titleFontWeight": "bold", "titleColor": "black", "titlePadding": 10,
                 "labelAngle": 0, "labelFont": "Lato", "labelFontSize": 18, "labelColor": "black", "labelLineHeight": 22, "labelPadding": 6, "labelLimit": 300,
                 "labelExpr": "isValid(datum.value) ? (datum.value == 'Control' ? 'Control' : split(replace(datum.value, 'lead ', 'lead|'), '|')) : ''",
                 "tickBand": "extent", "tickSize": 7, "tickColor": "#868686", "domainColor": "#868686"}},
  "y": {"field": "v", "type": "quantitative", "scale": {"domain": [0, 30], "nice": false, "zero": false},
        "axis": {"title": "Bcl2 gene fold change", "titleFont": "Lato", "titleFontSize": 17, "titleFontWeight": "bold", "titleColor": "black", "titlePadding": 8, "offset": -27,
                 "values": [0, 5, 10, 15, 20, 25, 30], "labelOverlap": false, "grid": false, "labelFont": "Lato", "labelFontSize": 18, "labelColor": "black", "labelPadding": 10,
                 "tickSize": 6, "tickColor": "#868686", "domainColor": "#868686"}}
 }},
{"data": {"name": "bars"},
 "mark": {"type": "rule", "color": "black"},
 "encoding": {
  "x": {"field": "t", "type": "nominal", "sort": null, "scale": {"paddingInner": 0.6, "paddingOuter": 0.3, "rangeMin": 27}, "axis": null},
  "y": {"field": "lo", "type": "quantitative", "scale": {"domain": [0, 30], "nice": false, "zero": false}, "axis": null},
  "y2": {"field": "hi"}
 }},
{"data": {"name": "bars"},
 "mark": {"type": "tick", "color": "black", "size": 12, "thickness": 1},
 "encoding": {
  "x": {"field": "t", "type": "nominal", "sort": null, "scale": {"paddingInner": 0.6, "paddingOuter": 0.3, "rangeMin": 27}, "axis": null},
  "y": {"field": "hi", "type": "quantitative", "scale": {"domain": [0, 30], "nice": false, "zero": false}, "axis": null}
 }},
{"data": {"name": "bars"},
 "mark": {"type": "tick", "color": "black", "size": 12, "thickness": 1},
 "encoding": {
  "x": {"field": "t", "type": "nominal", "sort": null, "scale": {"paddingInner": 0.6, "paddingOuter": 0.3, "rangeMin": 27}, "axis": null},
  "y": {"field": "lo", "type": "quantitative", "scale": {"domain": [0, 30], "nice": false, "zero": false}, "axis": null}
 }},
{"data": {"name": "bars"},
 "mark": {"type": "text", "dy": -18, "font": "Lato", "fontSize": 18, "baseline": "middle", "color": "black"},
 "encoding": {
  "x": {"field": "t", "type": "nominal", "sort": null, "scale": {"paddingInner": 0.6, "paddingOuter": 0.3, "rangeMin": 27}, "axis": null},
  "y": {"field": "v", "type": "quantitative", "scale": {"domain": [0, 30], "nice": false, "zero": false}, "axis": null},
  "text": {"field": "g", "type": "nominal"}
 }}
],
"resolve": {"scale": {"x": "independent"}, "axis": {"x": "independent", "y": "independent"}}
}
]
}
